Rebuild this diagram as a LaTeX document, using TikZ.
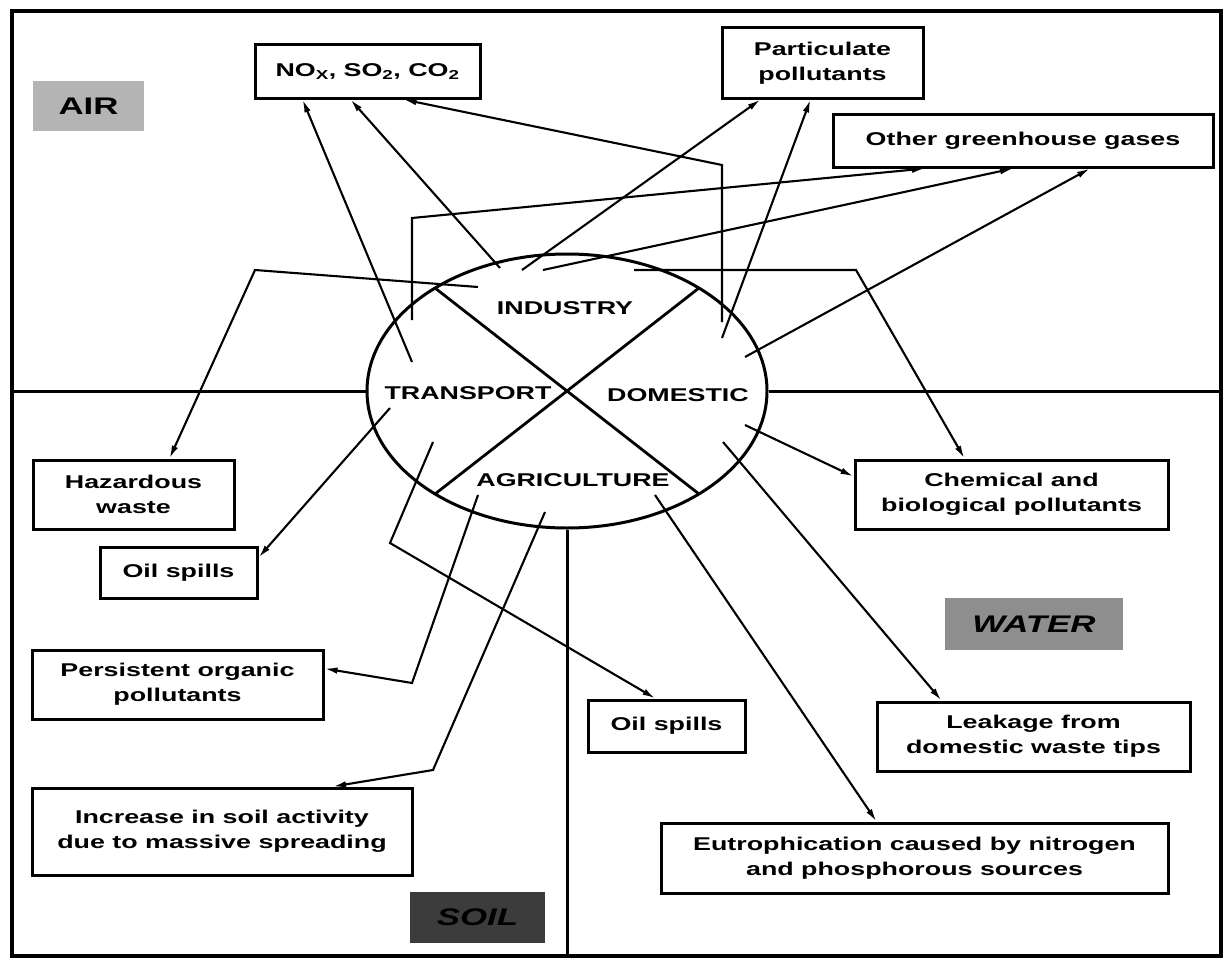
\documentclass[tikz,border=0pt]{standalone}
\usepackage{fontspec}
\usetikzlibrary{arrows.meta,shapes.geometric}
\newfontfamily\diagfont[FakeStretch=1.45]{Liberation Sans}
\definecolor{airgray}{HTML}{B4B4B4}
\definecolor{watergray}{HTML}{8E8E8E}
\definecolor{soilgray}{HTML}{3C3C3C}

\begin{document}
\begin{tikzpicture}[x=1pt, y=-1pt,
	every node/.style={font=\diagfont\bfseries\fontsize{18.5}{25}\selectfont, inner sep=0pt},
	sink/.style={draw, line width=3pt, align=center},
	region/.style={font=\diagfont\bfseries\fontsize{24}{28}\selectfont},
	flow/.style={line width=2.1pt, -{Latex[length=13pt,width=6.5pt]}}]
			% Page and frame
			\fill[white] (0,0) rectangle (1223,958);
			\useasboundingbox (0,0) rectangle (1223,958);
			\draw[line width=3.2pt] (12,11) rectangle (1221,956);

			% Sources
			\node[draw, ellipse, line width=3pt, minimum width=400pt, minimum height=274pt] (hub) at (567,391) {};
			\draw[line width=2.8pt] (435,288) -- (699,494);
			\draw[line width=2.8pt] (699,288) -- (435,494);
			\node (industry) at (565,308) {INDUSTRY};
			\node (transport) at (468,393) {TRANSPORT};
			\node (domestic) at (678,395) {DOMESTIC};
			\node (agri) at (573,480) {AGRICULTURE};

			% Dividers
			\draw[line width=3pt] (12,391) -- (hub.west);
			\draw[line width=3pt] (hub.east) -- (1221,391);
			\draw[line width=3pt] (hub.south) -- (567,956);

			% Regions
			\node[region, fill=airgray, minimum width=111pt, minimum height=50pt] (air) at (88.5,106) {AIR};
			\node[region, fill=watergray, minimum width=178pt, minimum height=52pt] (water) at (1034,624) {\itshape WATER};
			\node[region, fill=soilgray, minimum width=135pt, minimum height=51pt] (soil) at (477.5,917.5) {\itshape SOIL};

			% Pollutants
			\node[sink, minimum width=225pt, minimum height=53pt] (nox) at (367.5,71.5) {NO\textsubscript{X}, SO\textsubscript{2}, CO\textsubscript{2}};
			\node[sink, minimum width=201pt, minimum height=70pt] (part) at (822.5,63) {Particulate\\pollutants};
			\node[sink, minimum width=380pt, minimum height=53pt] (ogg) at (1023,140.5) {Other greenhouse gases};
			\node[sink, minimum width=201pt, minimum height=69pt] (haz) at (133.5,494.5) {Hazardous\\waste};
			\node[sink, minimum width=157pt, minimum height=51pt] (oilsoil) at (178.5,572.5) {Oil spills};
			\node[sink, minimum width=291pt, minimum height=69pt] (pop) at (177.5,684.5) {Persistent organic\\pollutants};
			\node[sink, minimum width=380pt, minimum height=87pt] (incr) at (222,831.5) {Increase in soil activity\\due to massive spreading};
			\node[sink, minimum width=313pt, minimum height=69pt] (chem) at (1011.5,494.5) {Chemical and\\biological pollutants};
			\node[sink, minimum width=157pt, minimum height=52pt] (oilwat) at (666.5,726) {Oil spills};
			\node[sink, minimum width=313pt, minimum height=69pt] (leak) at (1033.5,736.5) {Leakage from\\domestic waste tips};
			\node[sink, minimum width=507pt, minimum height=70pt] (eutro) at (914.5,858) {Eutrophication caused by nitrogen\\and phosphorous sources};

			% Start points inside the sectors
			\coordinate (tr1) at (412,362);
			\coordinate (tr2) at (412,320);
			\coordinate (tr3) at (390,408);
			\coordinate (tr4) at (433,442);
			\coordinate (in1) at (500,268);
			\coordinate (in2) at (522,270);
			\coordinate (in3) at (543,270);
			\coordinate (in4) at (478,287);
			\coordinate (in5) at (634,270);
			\coordinate (do1) at (722,322);
			\coordinate (do2) at (722,338);
			\coordinate (do3) at (745,357);
			\coordinate (do4) at (745,425);
			\coordinate (do5) at (723,442);
			\coordinate (ag1) at (478,495);
			\coordinate (ag2) at (545,512);
			\coordinate (ag3) at (655,495);

			% Flows to air
			\draw[flow] (tr1) -- ([xshift=-65pt]nox.south);
			\draw[flow] (in1) -- ([xshift=-17pt]nox.south);
			\draw[flow] (do1) -- (722,165) -- ([xshift=36pt]nox.south);
			\draw[flow] (in2) -- ([xshift=-62pt]part.south);
			\draw[flow] (do2) -- ([xshift=-12pt]part.south);
			\draw[flow] (tr2) -- (412,218) -- ([xshift=-98pt]ogg.south);
			\draw[flow] (in3) -- ([xshift=-10pt]ogg.south);
			\draw[flow] (do3) -- ([xshift=67pt]ogg.south);

			% Flows to soil
			\draw[flow] (in4) -- (255,270) -- ([xshift=36pt]haz.north);
			\draw[flow] (tr3) -- ([yshift=15pt]oilsoil.east);
			\draw[flow] (ag1) -- (412,683) -- ([yshift=16pt]pop.east);
			\draw[flow] (ag2) -- (433,770) -- ([xshift=111pt]incr.north);

			% Flows to water
			\draw[flow] (in5) -- (856,270) -- ([xshift=-47pt]chem.north);
			\draw[flow] (do4) -- ([yshift=18pt]chem.west);
			\draw[flow] (tr4) -- (390,543) -- ([xshift=-11pt]oilwat.north);
			\draw[flow] (do5) -- ([xshift=-92pt]leak.north);
			\draw[flow] (ag3) -- ([xshift=-38pt]eutro.north);
		\end{tikzpicture}
\end{document}
